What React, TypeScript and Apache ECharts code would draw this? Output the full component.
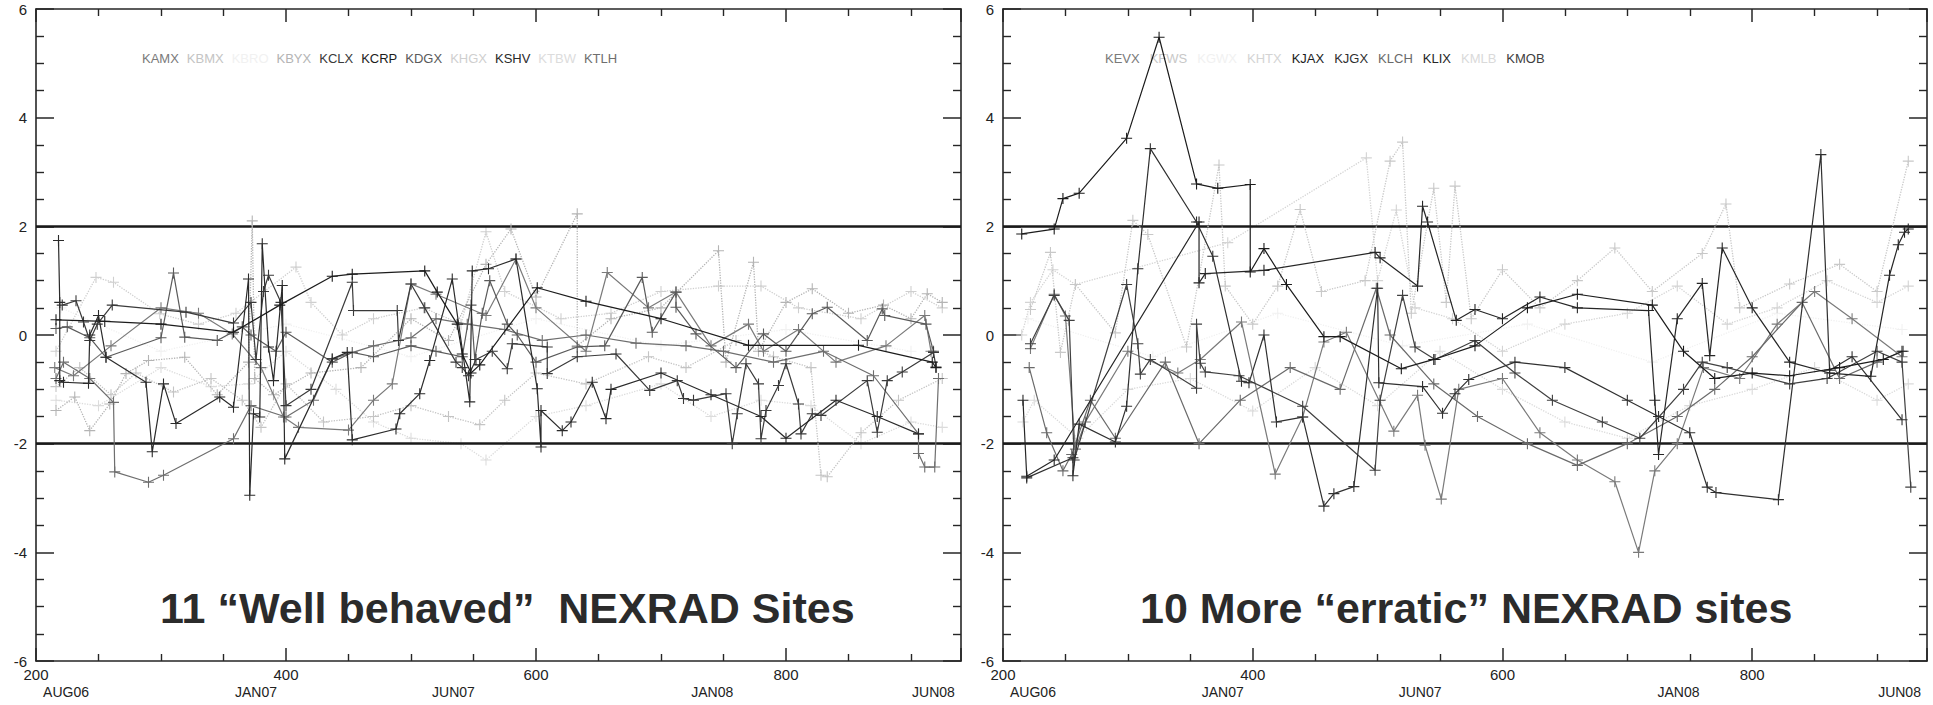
import React, { useEffect, useRef } from "react";
import * as echarts from "echarts";

const X_MIN = 200;
const X_MAX = 940;
const X_TICKS = [200, 400, 600, 800];
const DATE_POS = [224, 376, 534, 741, 918];
const DATE_LABELS = ["AUG06", "JAN07", "JUN07", "JAN08", "JUN08"];
const LIMITS = [2, -2];

const LEFT_SITES = ["KAMX", "KBMX", "KBRO", "KBYX", "KCLX", "KCRP", "KDGX", "KHGX", "KSHV", "KTBW", "KTLH"];
const LEFT_COLORS = ["#7a7a7a", "#c4c4c4", "#f1f1f1", "#b4b4b4", "#3a3a3a", "#1c1c1c", "#5a5a5a", "#cfcfcf", "#2a2a2a", "#dcdcdc", "#6e6e6e"];
const LEFT_DOTTED = [false, true, true, true, false, false, false, true, false, true, false];

const RIGHT_SITES = ["KEVX", "KFWS", "KGWX", "KHTX", "KJAX", "KJGX", "KLCH", "KLIX", "KMLB", "KMOB"];
const RIGHT_COLORS = ["#7a7a7a", "#c8c8c8", "#f1f1f1", "#d4d4d4", "#1c1c1c", "#303030", "#6a6a6a", "#262626", "#dadada", "#404040"];
const RIGHT_DOTTED = [false, true, true, true, false, false, false, false, true, false];

// ---- left panel series ----
const KAMX = [[215,-0.6],[230,-0.75],[260,-0.2],[300,0.5],[330,0.4],[357,0.02],[380,-0.6],[398,-1.51],[410,-1.7],[450,-1.75],[470,-1.2],[485,-0.9],[500,0.94],[520,0.75],[560,0.36],[584,1.4],[600,0.5],[640,-0.3],[657,1.15],[690,0.5],[712,0.79],[740,-0.2],[770,0.2],[782,-0.3],[810,0.1],[840,-0.5],[880,-0.2],[911,0.36],[916,-0.3]];
const KBMX = [[216,-0.95],[235,-0.6],[260,-1.1],[280,-0.7],[310,-1.05],[340,-0.8],[365,-1.2],[380,-1.7],[400,-0.9],[430,-1.6],[470,-1.5],[500,-1.3],[530,-1.5],[555,-1.65],[575,-1.2],[600,-0.7],[640,-0.9],[690,-0.4],[720,-0.6],[760,-0.1],[790,-0.4],[820,-0.6],[828,-2.58],[833,-2.61],[860,-1.8],[890,-1.2],[925,-0.8]];
const KBRO = [[220,0.5],[300,-0.3],[400,0.2],[500,-0.4],[600,0.3],[700,-0.2],[800,0.1],[900,-0.3]];
const KBYX = [[216,-1.39],[231,-1.14],[243,-1.76],[259,-1.27],[272,-0.71],[290,-0.47],[319,-0.41],[345,-1.1],[370,-0.5],[373,2.1],[375,-0.8],[390,-1.1],[420,-0.7],[460,-0.6],[500,0.3],[530,-0.1],[560,1.3],[580,1.95],[600,0.7],[633,2.23],[633,-0.2],[660,0.3],[700,0.5],[746,1.55],[752,-0.5],[774,1.34],[778,-0.3],[800,0.6],[821,0.85],[850,0.4],[878,0.55],[900,0.3],[913,0.76],[925,0.6]];
const KCLX = [[221,0.55],[232,0.63],[238,0.24],[243,-0.1],[249,0.2],[261,0.55],[320,0.42],[358,0.22],[372,0.6],[376,-0.45],[382,0.8],[386,1.1],[396,0.6],[400,-1.3],[420,-1.0],[453,0.97],[454,0.45],[489,0.45],[490,-0.1],[500,0.94],[511,0.5],[536,-0.5],[541,-0.6],[546,-0.75],[552,-0.45],[565,-0.3],[577,-0.62],[581,-0.16],[609,-0.22],[609,-0.71],[633,-0.4],[664,-0.35],[691,-1.02],[713,-0.84],[718,-1.17],[726,-1.2],[752,-1.08],[757,-2.0],[761,-1.45],[768,-0.53],[778,-0.9],[780,-1.91],[784,-1.39],[794,-0.93],[800,-0.53],[810,-1.27],[812,-1.82],[821,-1.45],[828,-1.48],[865,-0.84],[873,-1.79],[881,-0.84],[893,-0.68],[918,-0.32],[920,-0.59]];
const KCRP = [[216,0.28],[255,0.25],[300,0.2],[358,0.05],[395,0.55],[437,1.08],[453,1.12],[511,1.18],[521,0.79],[537,0.2],[541,-0.35],[548,-0.7],[555,-0.55],[601,0.87],[640,0.62],[700,0.3],[770,-0.19],[858,-0.19],[917,-0.5],[920,-0.6]];
const KDGX = [[216,0.12],[225,0.15],[243,-0.05],[256,-0.41],[300,-0.05],[310,1.14],[319,-0.04],[345,-0.1],[365,0.15],[372,0.0],[392,-0.3],[400,0.05],[437,-0.5],[453,-0.32],[470,-0.4],[500,-0.2],[520,-0.3],[541,-0.4],[548,0.55],[551,-0.45],[557,0.4],[563,1.0],[577,0.2],[585,0.0],[600,-0.5],[633,-0.22],[655,-0.2],[685,1.06],[693,0.05],[712,0.79],[712,0.51],[728,0.02],[760,-0.6],[782,0.02],[800,-0.3],[821,0.39],[833,0.51],[865,-0.1],[877,0.48],[879,0.36],[912,0.2],[918,-0.3]];
const KHGX = [[216,-0.3],[248,1.06],[262,0.97],[299,0.39],[330,0.2],[360,0.4],[408,1.25],[420,0.6],[445,0.0],[470,0.3],[510,0.5],[540,0.2],[560,1.9],[575,0.8],[620,0.3],[660,0.4],[700,0.8],[746,0.9],[780,0.9],[810,0.5],[860,0.3],[900,0.8],[925,0.5]];
const KSHV = [[218,1.74],[219,0.6],[219,-0.84],[222,-0.87],[242,-0.89],[243,0.0],[250,0.36],[256,-0.41],[288,-0.87],[293,-2.15],[302,-0.9],[312,-1.63],[347,-1.14],[358,-1.33],[370,1.03],[371,-2.95],[374,-1.45],[379,-1.51],[381,1.68],[386,-0.22],[390,-0.84],[397,0.91],[399,-2.28],[437,-0.44],[449,-0.32],[453,-1.93],[488,-1.73],[491,-1.45],[507,-1.08],[515,-0.47],[533,1.03],[547,-1.23],[549,1.18],[562,1.22],[584,1.4],[601,-0.99],[604,-2.06],[604,-1.39],[621,-1.76],[628,-1.6],[645,-0.87],[656,-1.54],[660,-1.0],[700,-0.7],[740,-1.1],[780,-1.5],[800,-1.9],[840,-1.2],[873,-1.5],[906,-1.82]];
const KTBW = [[216,-1.2],[250,-1.3],[300,-0.6],[340,-0.95],[370,-0.9],[400,-0.3],[440,-1.0],[470,-1.6],[500,-1.9],[540,-2.0],[560,-2.3],[600,-1.5],[640,-1.3],[700,-0.9],[740,-1.5],[780,-1.2],[820,-1.3],[860,-2.0],[900,-1.6],[925,-1.7]];
const KTLH = [[216,-0.8],[222,-0.5],[243,-0.8],[262,-1.24],[263,-2.52],[290,-2.71],[302,-2.58],[358,-1.91],[372,-1.3],[400,-1.51],[422,-1.2],[437,-0.44],[470,-0.2],[500,-0.05],[520,0.3],[545,0.2],[575,0.1],[605,-0.1],[640,0.0],[680,-0.15],[720,-0.2],[750,-0.3],[790,-0.5],[830,-0.3],[870,-0.75],[906,-1.82],[906,-2.18],[911,-2.43],[919,-2.43],[922,-0.8]];
const LEFT_DATA = [KAMX, KBMX, KBRO, KBYX, KCLX, KCRP, KDGX, KHGX, KSHV, KTBW, KTLH];

// ---- right panel series ----
const KEVX = [[222,-0.25],[241,0.75],[250,0.35],[258,-2.1],[266,-1.6],[300,-0.3],[340,-0.7],[358,-0.45],[391,0.24],[418,-2.56],[440,-1.51],[457,-0.13],[475,0.05],[513,-1.77],[532,-1.11],[538,-2.03],[551,-3.02],[565,-1.0],[600,-0.8],[630,-1.8],[660,-2.3],[690,-2.7],[709,-4.0],[722,-2.5],[740,-2.0],[761,-0.6],[790,-0.8],[820,0.2],[850,0.8],[880,0.3],[920,-0.4]];
const KFWS = [[222,0.47],[238,1.52],[246,-0.32],[258,0.93],[290,0.04],[304,2.11],[316,1.85],[347,-0.22],[373,3.13],[378,0.9],[400,0.2],[420,0.9],[438,2.31],[455,0.8],[490,1.0],[510,3.2],[520,3.55],[527,0.4],[545,2.7],[555,0.6],[562,2.74],[575,0.3],[600,1.2],[630,0.5],[660,1.0],[690,1.6],[720,0.8],[760,1.5],[779,2.41],[790,0.5],[830,0.94],[870,1.3],[900,0.8],[925,3.2]];
const KGWX = [[220,0.3],[320,-0.4],[420,0.4],[520,-0.2],[620,0.2],[720,-0.5],[820,0.4],[920,0.1]];
const KHTX = [[215,0.0],[222,0.6],[240,1.2],[258,0.93],[380,1.7],[491,3.26],[500,1.0],[515,2.3],[530,0.5],[560,0.3],[600,-0.3],[650,0.2],[700,0.4],[740,0.9],[780,0.2],[820,0.5],[860,1.0],[900,0.6],[925,0.9]];
const KJAX = [[215,1.86],[241,1.95],[248,2.51],[261,2.61],[299,3.62],[325,5.48],[355,2.78],[372,2.7],[398,2.77],[398,1.16],[409,1.59],[427,0.93],[457,-0.03],[470,-0.03],[519,-0.62],[545,-0.45],[578,-0.2],[620,0.5],[660,0.75],[720,0.55],[745,-0.3],[770,-0.8],[800,-0.7],[830,-0.75],[870,-0.6],[905,-0.45],[920,-0.3]];
const KJGX = [[219,-2.63],[256,-2.26],[256,-2.59],[261,-1.64],[290,-1.97],[299,-1.31],[308,1.22],[318,3.43],[355,2.08],[368,1.45],[391,-0.85],[397,-0.88],[409,0.0],[419,-1.6],[440,-1.51],[457,-3.15],[465,-2.92],[481,-2.79],[500,0.86],[501,-0.88],[536,-0.95],[552,-1.44],[562,-1.08],[573,-0.82],[610,-0.5],[650,-0.6],[700,-1.2],[725,-1.5],[750,-1.8],[764,-2.8],[771,-2.9],[821,-3.03],[855,3.32],[862,-0.65],[880,-0.4],[920,-1.56]];
const KLCH = [[221,-0.6],[235,-1.8],[248,-2.5],[255,-2.2],[270,-1.2],[290,-1.9],[330,-0.5],[357,-2.0],[390,-1.2],[430,-0.6],[470,-1.0],[499,0.86],[510,0.0],[545,-0.9],[580,-1.5],[620,-2.0],[660,-2.4],[700,-2.0],[740,-1.5],[770,-1.0],[800,-0.4],[840,0.6],[870,-0.8],[900,-0.5],[921,-0.3]];
const KLIX = [[216,-1.2],[219,-2.6],[241,-2.3],[357,2.08],[357,0.96],[362,1.13],[409,1.19],[498,1.52],[502,1.42],[532,0.9],[536,2.37],[540,2.08],[563,0.27],[578,0.47],[600,0.3],[630,0.7],[660,0.5],[717,0.45],[722,-1.2],[725,-2.2],[740,0.3],[760,0.95],[766,-0.38],[776,1.6],[800,0.5],[830,-0.5],[862,-0.7],[895,-0.76],[910,1.1],[917,1.66],[922,1.89],[925,1.95]];
const KMLB = [[216,-1.6],[225,-1.2],[260,-1.9],[300,-1.0],[350,-0.8],[400,-1.4],[450,-0.6],[500,-1.3],[550,-0.3],[600,-1.0],[650,-1.6],[700,-1.9],[750,-1.3],[800,-1.0],[850,-0.6],[900,-1.2],[925,-0.9]];
const KMOB = [[222,-0.16],[241,0.73],[253,0.27],[257,-2.3],[299,0.93],[308,-0.16],[310,-0.72],[318,-0.45],[355,-0.98],[355,0.2],[358,-0.52],[362,-0.68],[389,-0.75],[440,-1.31],[498,-2.49],[502,-1.2],[520,0.73],[530,-0.22],[546,-0.45],[578,-0.1],[610,-0.7],[640,-1.2],[680,-1.6],[710,-1.9],[745,-1.0],[760,-0.5],[780,-0.6],[830,-0.9],[860,-0.8],[900,-0.3],[920,-0.5],[927,-2.8]];
const RIGHT_DATA = [KEVX, KFWS, KGWX, KHTX, KJAX, KJGX, KLCH, KLIX, KMLB, KMOB];

const TITLES = ["11 \u201cWell behaved\u201d  NEXRAD Sites", "10 More \u201cerratic\u201d NEXRAD sites"];

const CROSS = "path://M4.5,0L5.5,0L5.5,4.5L10,4.5L10,5.5L5.5,5.5L5.5,10L4.5,10L4.5,5.5L0,5.5L0,4.5L4.5,4.5Z";
const FONT = '"Liberation Sans Narrow", "Liberation Sans", Arial, sans-serif';
const AX = "#262626";

function lum(c: string) {
  return parseInt(c.slice(1, 3), 16);
}

function buildOption() {
  const grids = [
    { left: 36, right: 972, top: 9, bottom: 44 },
    { left: 1003, right: 6, top: 9, bottom: 44 },
  ];
  const lineStyle = { show: true, onZero: false, lineStyle: { color: AX, width: 1.6 } };
  const tickX = { show: true, inside: true, length: 13, lineStyle: { color: AX, width: 1.5 } };
  const minorX = { show: true, splitNumber: 4, length: 7, lineStyle: { color: AX, width: 1.4 } };
  const tickY = { show: true, inside: true, length: 18, lineStyle: { color: AX, width: 1.5 } };
  const minorY = { show: true, splitNumber: 4, length: 8, lineStyle: { color: AX, width: 1.4 } };
  const xAxes: any[] = [];
  const yAxes: any[] = [];
  [0, 1].forEach((g) => {
    xAxes.push({
      type: "value", gridIndex: g, position: "bottom", min: X_MIN, max: X_MAX, interval: 200,
      axisLine: lineStyle, axisTick: tickX, minorTick: minorX,
      axisLabel: { show: true, color: "#222", fontSize: 15, fontFamily: FONT, margin: 6, showMaxLabel: false,
        formatter: (v: number) => (X_TICKS.includes(v) ? String(v) : "") },
      splitLine: { show: false },
    });
    xAxes.push({
      type: "value", gridIndex: g, position: "bottom", offset: 19, min: X_MIN, max: X_MAX,
      axisLine: { show: false, onZero: false }, axisTick: { show: false }, splitLine: { show: false },
      axisLabel: { show: true, color: "#222", fontSize: 14, fontFamily: FONT, margin: 5,
        customValues: DATE_POS,
        formatter: (v: number) => { const i = DATE_POS.indexOf(v); return i >= 0 ? DATE_LABELS[i] : ""; } },
    });
    xAxes.push({
      type: "value", gridIndex: g, position: "top", min: X_MIN, max: X_MAX, interval: 200,
      axisLine: lineStyle, axisTick: tickX, minorTick: minorX,
      axisLabel: { show: false }, splitLine: { show: false },
    });
    yAxes.push({
      type: "value", gridIndex: g, position: "left", min: -6, max: 6, interval: 2,
      axisLine: lineStyle, axisTick: tickY, minorTick: minorY,
      axisLabel: { show: true, color: "#222", fontSize: 15, fontFamily: FONT, margin: 9 },
      splitLine: { show: false },
    });
    yAxes.push({
      type: "value", gridIndex: g, position: "right", min: -6, max: 6, interval: 2,
      axisLine: lineStyle, axisTick: tickY, minorTick: minorY,
      axisLabel: { show: false }, splitLine: { show: false },
    });
  });

  const series: any[] = [];
  const addPanel = (g: number, names: string[], data: number[][][], colors: string[], dotted: boolean[]) => {
    const order = names.map((_, i) => i).sort((a, b) => lum(colors[b]) - lum(colors[a]));
    order.forEach((i, k) => {
      series.push({
        type: "line", name: names[i], xAxisIndex: g * 3, yAxisIndex: g * 2,
        data: data[i], symbol: CROSS, symbolSize: 11, showAllSymbol: true, z: 2 + k,
        lineStyle: { color: colors[i], width: dotted[i] ? 1.3 : 1.2, type: dotted[i] ? "dotted" : "solid" },
        itemStyle: { color: colors[i] },
        emphasis: { disabled: true },
      });
    });
    series.push({
      type: "line", name: "limits" + g, xAxisIndex: g * 3, yAxisIndex: g * 2, data: [], z: 30,
      markLine: {
        silent: true, symbol: ["none", "none"], label: { show: false },
        lineStyle: { color: "#1a1a1a", width: 2.6, type: "solid" },
        data: LIMITS.map((v) => ({ yAxis: v })),
      },
    });
  };
  addPanel(0, LEFT_SITES, LEFT_DATA, LEFT_COLORS, LEFT_DOTTED);
  addPanel(1, RIGHT_SITES, RIGHT_DATA, RIGHT_COLORS, RIGHT_DOTTED);

  const legendBase = {
    orient: "horizontal", icon: "none", itemWidth: 0, itemHeight: 0, padding: 0,
    selectedMode: false, textStyle: { fontSize: 13, fontFamily: FONT },
  };

  return {
    animation: false,
    backgroundColor: "#ffffff",
    grid: grids,
    xAxis: xAxes,
    yAxis: yAxes,
    legend: [
      { ...legendBase, left: 137, top: 52, itemGap: 3,
        data: LEFT_SITES.map((n, i) => ({ name: n, textStyle: { color: LEFT_COLORS[i] } })) },
      { ...legendBase, left: 1100, top: 52, itemGap: 5,
        data: RIGHT_SITES.map((n, i) => ({ name: n, textStyle: { color: RIGHT_COLORS[i] } })) },
    ],
    graphic: [
      { type: "text", x: 160, y: 608, z: 100,
        style: { text: TITLES[0], font: 'bold 43px "Liberation Sans", Arial, sans-serif', fill: "#2b2b2b", textVerticalAlign: "middle", textAlign: "left" } },
      { type: "text", x: 1140, y: 608, z: 100,
        style: { text: TITLES[1], font: 'bold 43px "Liberation Sans", Arial, sans-serif', fill: "#2b2b2b", textVerticalAlign: "middle", textAlign: "left" } },
    ],
    series,
  };
}

export default function App() {
  const ref = useRef<HTMLDivElement>(null);
  useEffect(() => {
    if (!ref.current) return;
    const chart = echarts.init(ref.current, undefined, { renderer: "svg" });
    chart.setOption(buildOption() as any);
    return () => chart.dispose();
  }, []);
  return <div ref={ref} style={{ position: "fixed", left: 0, top: 0, width: 1933, height: 705, background: "#fff" }} />;
}
